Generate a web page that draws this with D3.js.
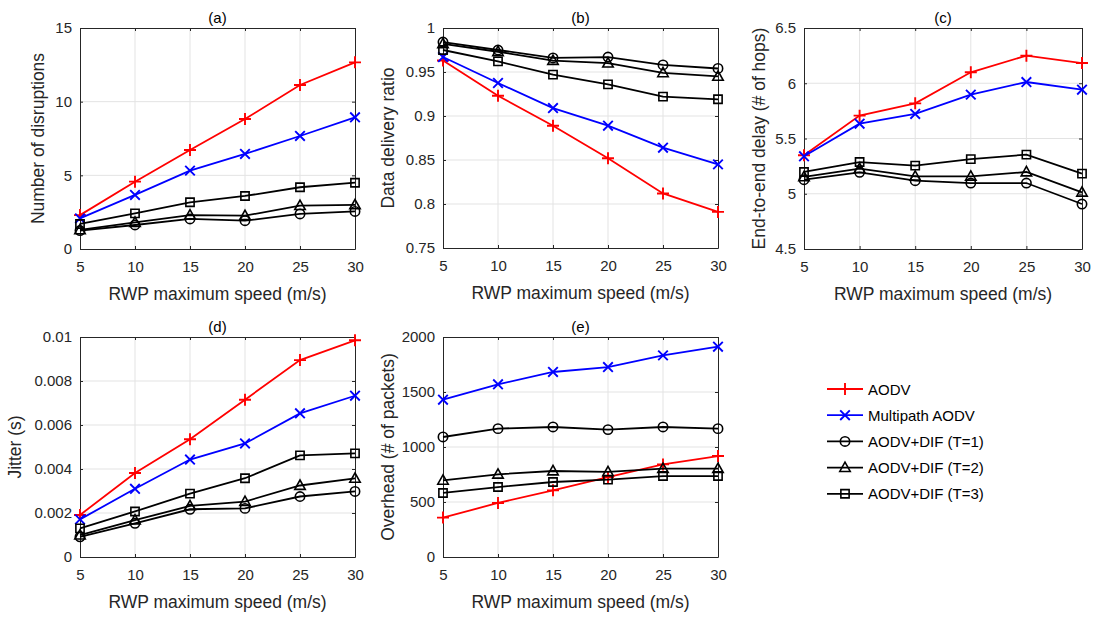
<!DOCTYPE html>
<html>
<head>
<meta charset="utf-8">
<script src="https://cdn.jsdelivr.net/npm/d3@7"></script>
<style>
  html, body { margin: 0; padding: 0; background: #fff; }
  svg { display: block; font-family: "Liberation Sans", Arial, sans-serif; }
</style>
</head>
<body>
<svg id="chart" width="1094" height="617"></svg>
<script>
// RWP maximum speed (m/s)
const speeds = [5, 10, 15, 20, 25, 30];

const seriesNames = ["AODV", "Multipath AODV", "AODV+DIF (T=1)", "AODV+DIF (T=2)", "AODV+DIF (T=3)"];
const seriesColors = ["#ff0000", "#0000ff", "#000000", "#000000", "#000000"];
const seriesMarkers = ["plus", "cross", "circle", "triangle", "square"];

// (a) Number of disruptions
const disruptAODV = [2.3, 4.57, 6.72, 8.82, 11.13, 12.67];
const disruptMulti = [2.08, 3.67, 5.32, 6.45, 7.67, 8.94];
const disruptT1 = [1.25, 1.63, 2.04, 1.92, 2.38, 2.55];
const disruptT2 = [1.3, 1.8, 2.3, 2.26, 2.94, 2.99];
const disruptT3 = [1.7, 2.42, 3.17, 3.6, 4.19, 4.5];

// (b) Data delivery ratio
const ddrAODV = [0.963, 0.923, 0.889, 0.852, 0.812, 0.791];
const ddrMulti = [0.967, 0.9375, 0.909, 0.889, 0.864, 0.845];
const ddrT1 = [0.984, 0.975, 0.966, 0.967, 0.958, 0.954];
const ddrT2 = [0.982, 0.973, 0.963, 0.960, 0.949, 0.945];
const ddrT3 = [0.975, 0.962, 0.947, 0.936, 0.922, 0.919];

// (c) End-to-end delay (# of hops)
const delayAODV = [5.348, 5.707, 5.818, 6.099, 6.25, 6.183];
const delayMulti = [5.339, 5.634, 5.722, 5.897, 6.011, 5.942];
const delayT1 = [5.127, 5.194, 5.118, 5.097, 5.097, 4.907];
const delayT2 = [5.152, 5.227, 5.158, 5.158, 5.197, 5.013];
const delayT3 = [5.197, 5.287, 5.254, 5.314, 5.354, 5.182];

// (d) Jitter (s)
const jitterAODV = [0.00191, 0.00382, 0.00535, 0.00715, 0.00895, 0.00985];
const jitterMulti = [0.00171, 0.0031, 0.00443, 0.00516, 0.00653, 0.00733];
const jitterT1 = [0.00092, 0.00153, 0.00217, 0.00221, 0.00275, 0.00298];
const jitterT2 = [0.00099, 0.00168, 0.00232, 0.00252, 0.00325, 0.00357];
const jitterT3 = [0.0013, 0.00207, 0.00288, 0.00358, 0.00462, 0.00471];

// (e) Overhead (# of packets)
const overheadAODV = [358, 491, 606, 727, 842, 918];
const overheadMulti = [1430, 1570, 1682, 1727, 1833, 1912];
const overheadT1 = [1091, 1167, 1182, 1158, 1182, 1167];
const overheadT2 = [697, 752, 782, 773, 803, 803];
const overheadT3 = [582, 636, 682, 703, 736, 736];

// Axis tick values
const xTicks = [5, 10, 15, 20, 25, 30];
const ticksA = [0, 5, 10, 15];
const ticksB = [0.75, 0.8, 0.85, 0.9, 0.95, 1];
const ticksC = [4.5, 5, 5.5, 6, 6.5];
const ticksD = [0, 0.002, 0.004, 0.006, 0.008, 0.01];
const ticksE = [0, 500, 1000, 1500, 2000];

const svg = d3.select("#chart");
const axisColor = "#262626";
const gridColor = "#e3e3e3";

const panels = [
  { title: "(a)", ylabel: "Number of disruptions", box: [80, 28, 355, 249], ydom: [0, 15], yticks: ticksA,
    series: [disruptAODV, disruptMulti, disruptT1, disruptT2, disruptT3], ylx: 38 },
  { title: "(b)", ylabel: "Data delivery ratio", box: [443, 28, 718, 248], ydom: [0.75, 1], yticks: ticksB,
    series: [ddrAODV, ddrMulti, ddrT1, ddrT2, ddrT3], ylx: 388 },
  { title: "(c)", ylabel: "End-to-end delay (# of hops)", box: [804, 28, 1082, 249], ydom: [4.5, 6.5], yticks: ticksC,
    series: [delayAODV, delayMulti, delayT1, delayT2, delayT3], ylx: 759 },
  { title: "(d)", ylabel: "Jitter (s)", box: [80, 337, 355, 557], ydom: [0, 0.01], yticks: ticksD,
    series: [jitterAODV, jitterMulti, jitterT1, jitterT2, jitterT3], ylx: 15 },
  { title: "(e)", ylabel: "Overhead (# of packets)", box: [443, 337, 718, 557], ydom: [0, 2000], yticks: ticksE,
    series: [overheadAODV, overheadMulti, overheadT1, overheadT2, overheadT3], ylx: 388 }
];

function markerPath(type, size) {
  const h = size / 2;
  switch (type) {
    case "plus": return `M${-h},0H${h}M0,${-h}V${h}`;
    case "cross": return `M${-h*0.8},${-h*0.8}L${h*0.8},${h*0.8}M${-h*0.8},${h*0.8}L${h*0.8},${-h*0.8}`;
    case "circle": {
      const r = h * 0.85;
      return `M${r},0A${r},${r} 0 1,1 ${-r},0A${r},${r} 0 1,1 ${r},0Z`;
    }
    case "triangle": {
      const r = h;
      return `M0,${-r}L${r*0.95},${r*0.7}L${-r*0.95},${r*0.7}Z`;
    }
    case "square": {
      const s = h * 0.75;
      return `M${-s},${-s}H${s}V${s}H${-s}Z`;
    }
  }
}

function fmtTick(v) {
  return String(+v.toFixed(6));
}

panels.forEach(p => {
  const [x0, y0, x1, y1] = p.box;
  const x = d3.scaleLinear().domain([5, 30]).range([x0, x1]);
  const y = d3.scaleLinear().domain(p.ydom).range([y1, y0]);
  const g = svg.append("g");

  // grid
  g.append("g").selectAll("line").data(xTicks.slice(1, -1)).join("line")
    .attr("x1", d => x(d)).attr("x2", d => x(d)).attr("y1", y0).attr("y2", y1)
    .attr("stroke", gridColor).attr("stroke-width", 1);
  g.append("g").selectAll("line").data(p.yticks.slice(1, -1)).join("line")
    .attr("y1", d => y(d)).attr("y2", d => y(d)).attr("x1", x0).attr("x2", x1)
    .attr("stroke", gridColor).attr("stroke-width", 1);

  // axes with inward ticks
  const xAxis = d3.axisBottom(x).tickValues(xTicks).tickSizeInner(-3).tickSizeOuter(0).tickPadding(12).tickFormat(d3.format("d"));
  const xAxisTop = d3.axisTop(x).tickValues(xTicks).tickSizeInner(-3).tickSizeOuter(0).tickFormat("");
  const yAxis = d3.axisLeft(y).tickValues(p.yticks).tickSizeInner(-3).tickSizeOuter(0).tickPadding(8).tickFormat(fmtTick);
  const yAxisRight = d3.axisRight(y).tickValues(p.yticks).tickSizeInner(-3).tickSizeOuter(0).tickFormat("");

  [
    [xAxis, `translate(0,${y1})`],
    [xAxisTop, `translate(0,${y0})`],
    [yAxis, `translate(${x0},0)`],
    [yAxisRight, `translate(${x1},0)`]
  ].forEach(([ax, tr]) => {
    const a = g.append("g").attr("transform", tr).call(ax);
    a.select(".domain").attr("stroke", axisColor).attr("stroke-width", 1);
    a.selectAll(".tick line").attr("stroke", axisColor);
    a.selectAll(".tick text").attr("fill", axisColor).style("font-size", "15px").style("font-family", "Liberation Sans, Arial, sans-serif");
  });

  // series
  const line = d3.line().x((d, i) => x(speeds[i])).y(d => y(d));
  p.series.forEach((vals, si) => {
    const col = seriesColors[si];
    g.append("path").datum(vals).attr("d", line)
      .attr("fill", "none").attr("stroke", col).attr("stroke-width", 1.8);
    g.append("g").selectAll("path").data(vals).join("path")
      .attr("transform", (d, i) => `translate(${x(speeds[i])},${y(d)})`)
      .attr("d", markerPath(seriesMarkers[si], si < 2 ? 12 : 11))
      .attr("fill", "none").attr("stroke", col).attr("stroke-width", si < 2 ? 1.9 : 1.6);
  });

  // title
  g.append("text").attr("x", (x0 + x1) / 2).attr("y", y0 - 5).attr("text-anchor", "middle")
    .attr("fill", "#000").style("font-size", "15px").text(p.title);

  // axis labels
  g.append("text").attr("x", (x0 + x1) / 2).attr("y", y1 + 51).attr("text-anchor", "middle")
    .attr("fill", axisColor).style("font-size", "17.5px").text("RWP maximum speed (m/s)");
  g.append("text").attr("transform", `translate(${p.ylx},${(y0 + y1) / 2}) rotate(-90)`)
    .attr("text-anchor", "middle").attr("dominant-baseline", "central")
    .attr("fill", axisColor).style("font-size", "17.5px").text(p.ylabel);
});

// legend
const legend = svg.append("g");
seriesNames.forEach((name, i) => {
  const ly = 389 + i * 26.2;
  legend.append("line").attr("x1", 827).attr("x2", 863).attr("y1", ly).attr("y2", ly)
    .attr("stroke", seriesColors[i]).attr("stroke-width", 1.8);
  legend.append("path").attr("transform", `translate(845,${ly})`)
    .attr("d", markerPath(seriesMarkers[i], i < 2 ? 12 : 11))
    .attr("fill", "none").attr("stroke", seriesColors[i]).attr("stroke-width", i < 2 ? 1.9 : 1.6);
  legend.append("text").attr("x", 868).attr("y", ly).attr("dominant-baseline", "central")
    .attr("fill", "#000").style("font-size", "15px").text(name);
});
</script>
</body>
</html>
